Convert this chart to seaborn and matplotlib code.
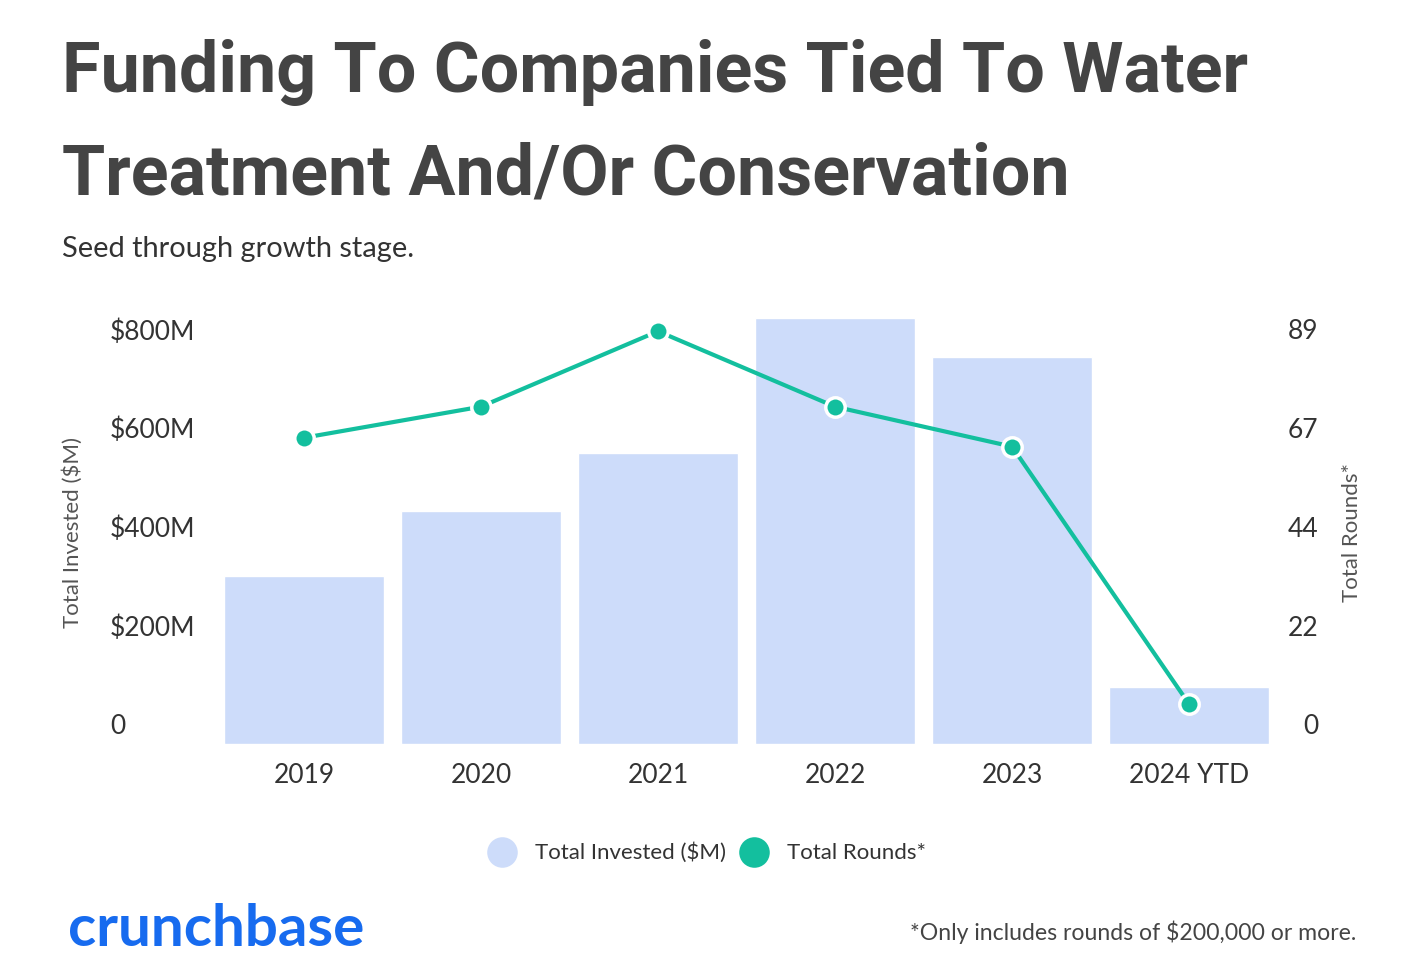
import pandas as pd
import matplotlib.pyplot as plt
import seaborn as sns
from matplotlib.lines import Line2D

sns.set_theme(style='white')
plt.rcParams['font.family'] = ['Lato', 'DejaVu Sans']

# data
years = ['2019', '2020', '2021', '2022', '2023', '2024 YTD']
invested = [340, 472, 589, 863, 784, 115]   # $M
rounds = [69, 76, 93, 76, 67, 9]

left_ticks = [0, 200, 400, 600, 800]
left_labels = ['0', '$200M', '$400M', '$600M', '$800M']
right_labels = ['0', '22', '44', '67', '89']

bar_color = '#cddcfa'
line_color = '#13bf9e'
text_color = '#333333'

df = pd.DataFrame({'Year': years, 'Invested': invested, 'Rounds': rounds})

fig = plt.figure(figsize=(14.09, 9.72), dpi=100)
ax = fig.add_axes([0.1529, 0.2346, 0.7538, 0.447])

sns.barplot(data=df, x='Year', y='Invested', color=bar_color, saturation=1,
            width=0.9, ax=ax)
ymax = 880
ax.set_ylim(0, ymax)
ax.set_xlim(-0.5, 5.5)

ax2 = ax.twinx()
sns.lineplot(data=df, x='Year', y='Rounds', color=line_color, linewidth=3,
             marker='o', markersize=14, markeredgecolor='white',
             markeredgewidth=2.5, ax=ax2, sort=False, zorder=5)
ax2.set_ylim(0, ymax * 89 / 800)

for a in (ax, ax2):
    for s in a.spines.values():
        s.set_visible(False)
    a.set_yticks([])
    a.set_ylabel('')
    a.set_xlabel('')
    a.grid(False)

ax.tick_params(axis='x', length=0, pad=14, labelsize=19, labelcolor=text_color)

# y tick labels sit a little above their value
for v, lab in zip(left_ticks, left_labels):
    ax.annotate(lab, xy=(0, v), xycoords=ax.get_yaxis_transform(),
                xytext=(-105.5, 17), textcoords='offset pixels',
                ha='left', va='center', fontsize=19, color=text_color)
for v, lab in zip(left_ticks, right_labels):
    ax.annotate(lab, xy=(1, v), xycoords=ax.get_yaxis_transform(),
                xytext=(40.5, 17), textcoords='offset pixels',
                ha='right', va='center', fontsize=19, color=text_color)

fig.text(73 / 1409, 1 - 532 / 972, 'Total Invested ($M)', rotation=90,
         ha='center', va='center', fontsize=16, color='#555555')
fig.text(1352 / 1409, 1 - 532 / 972, 'Total Rounds*', rotation=90,
         ha='center', va='center', fontsize=16, color='#555555')

# titles
fig.text(62 / 1409, 1 - 72 / 972, 'Funding To Companies Tied To Water',
         family='Roboto', fontweight='bold', fontsize=50.4, color='#444444',
         ha='left', va='center')
fig.text(62 / 1409, 1 - 175 / 972, 'Treatment And/Or Conservation',
         family='Roboto', fontweight='bold', fontsize=50.4, color='#444444',
         ha='left', va='center')
fig.text(62 / 1409, 1 - 249 / 972, 'Seed through growth stage.',
         fontsize=20.9, color=text_color, ha='left', va='center')

# legend
handles = [Line2D([], [], linestyle='none', marker='o', markersize=22,
                  markerfacecolor=bar_color, markeredgecolor='none'),
           Line2D([], [], linestyle='none', marker='o', markersize=22,
                  markerfacecolor=line_color, markeredgecolor='none')]
fig.legend(handles, ['Total Invested ($M)', 'Total Rounds*'],
           loc='center', bbox_to_anchor=(705 / 1409, 1 - 853 / 972),
           ncol=2, frameon=False, fontsize=16, handletextpad=0.7,
           columnspacing=0.45, handlelength=1.6, labelcolor=text_color)

# footer
fig.text(68 / 1409, 1 - 929 / 972, 'crunchbase', fontsize=42,
         fontweight='bold', color='#176bef', ha='left', va='center')
fig.text(1356 / 1409, 1 - 932 / 972, '*Only includes rounds of $200,000 or more.',
         fontsize=16.6, color='#444444', ha='right', va='center')

fig.savefig('out.png', dpi=100, facecolor='white')
